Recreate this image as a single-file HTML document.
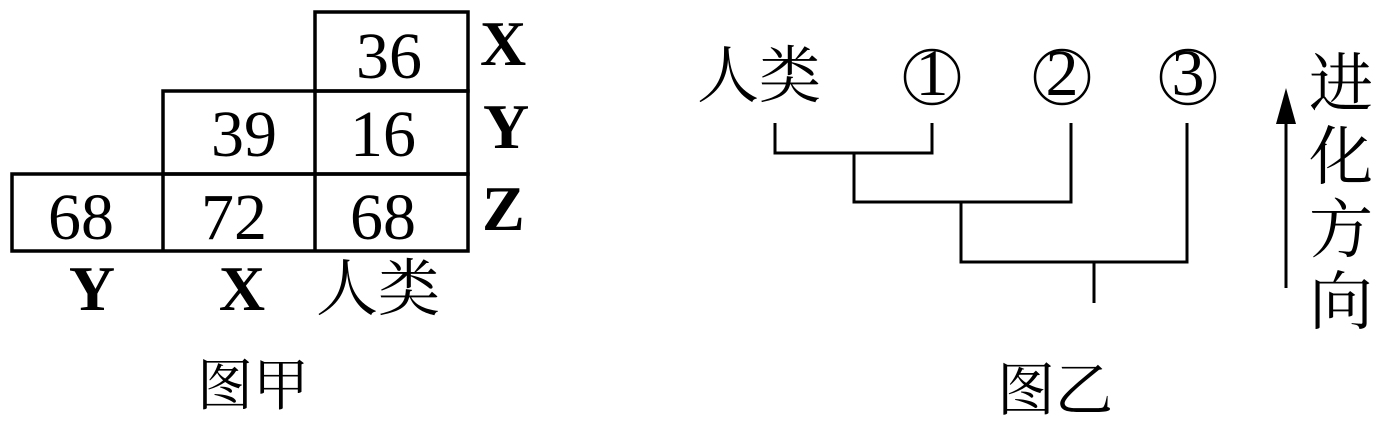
<!DOCTYPE html>
<html><head><meta charset="utf-8"><style>
html,body{margin:0;padding:0;background:#fff;}
svg{display:block;}
.n{font-family:"Liberation Serif",serif;font-size:66px;fill:#000;text-anchor:middle;}
.b{font-family:"Liberation Serif",serif;font-size:64px;font-weight:bold;fill:#000;}
.c{font-family:"Liberation Serif","Noto Serif CJK SC",serif;fill:#000;}
</style></head><body>
<svg width="1389" height="428" viewBox="0 0 1389 428" xmlns="http://www.w3.org/2000/svg">
<g stroke="#000" stroke-width="3.5" fill="none">
<rect x="315" y="12" width="153" height="79"/>
<rect x="163" y="91" width="305" height="83"/>
<rect x="12" y="174" width="456" height="77"/>
<line x1="315" y1="91" x2="315" y2="251"/>
<line x1="163" y1="174" x2="163" y2="251"/>
</g>
<text class="n" x="389" y="78">36</text>
<text class="n" x="244" y="156">39</text>
<text class="n" x="383" y="156">16</text>
<text class="n" x="81" y="239">68</text>
<text class="n" x="234" y="239">72</text>
<text class="n" x="383" y="239">68</text>
<text class="b" x="480" y="65">X</text>
<text class="b" x="483" y="148">Y</text>
<text class="b" x="482" y="230">Z</text>
<text class="b" x="92" y="310" text-anchor="middle">Y</text>
<text class="b" x="242" y="310" text-anchor="middle">X</text>
<text class="c" x="316" y="310" font-size="62">人类</text>
<text class="c" x="197" y="405" font-size="56">图甲</text>

<text class="c" x="697" y="97" font-size="62">人类</text>
<g stroke="#000" stroke-width="2.5" fill="none">
<ellipse cx="932" cy="77" rx="27" ry="27"/>
<ellipse cx="1062" cy="77" rx="27" ry="27"/>
<ellipse cx="1188" cy="77" rx="27" ry="27"/>
</g>
<text class="n" x="932" y="95" font-size="50">1</text>
<text class="n" x="1062" y="95" font-size="50">2</text>
<text class="n" x="1188" y="95" font-size="50">3</text>
<g stroke="#000" stroke-width="3" fill="none">
<polyline points="775,123 775,153 932,153 932,123"/>
<polyline points="854,153 854,202 1071,202 1071,123"/>
<polyline points="961,202 961,262 1187,262 1187,123"/>
<line x1="1094" y1="262" x2="1094" y2="303"/>
<line x1="1286" y1="288" x2="1286" y2="115"/>
</g>
<polygon points="1286,88 1276,124 1296,124" fill="#000"/>
<text class="c" x="1309" y="106" font-size="64">进</text>
<text class="c" x="1309" y="179" font-size="64">化</text>
<text class="c" x="1309" y="252" font-size="64">方</text>
<text class="c" x="1309" y="324" font-size="64">向</text>
<text class="c" x="997" y="410" font-size="58">图乙</text>
</svg>
</body></html>
